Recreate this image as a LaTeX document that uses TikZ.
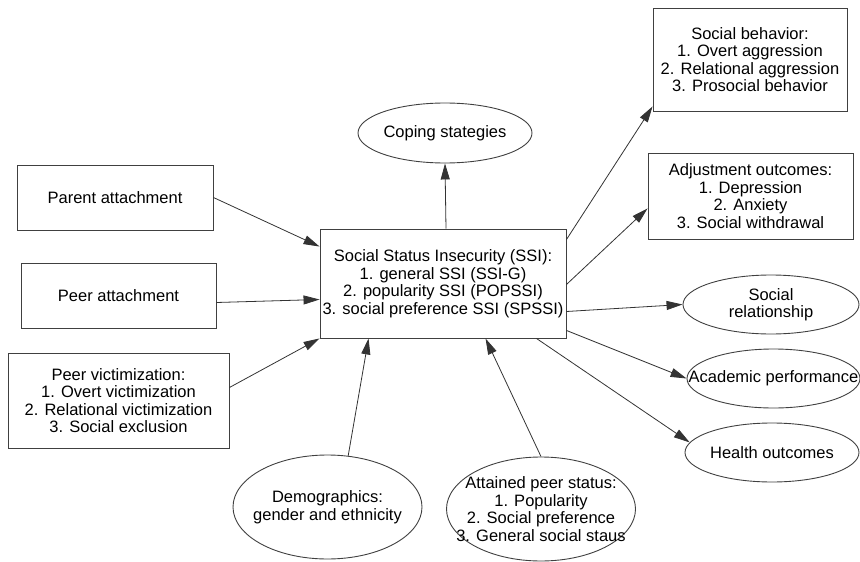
\documentclass[tikz,border=0pt]{standalone}
\usepackage{fontspec}
\setmainfont{Liberation Sans}
\usetikzlibrary{arrows.meta,shapes.geometric,calc}
\begin{document}
\begin{tikzpicture}[x=1pt,y=-1pt,
 every node/.style={font=\fontsize{16.5}{17.5}\selectfont, text=black},
 box/.style={draw=black!75, line width=0.9pt, inner sep=0pt, align=center},
 ell/.style={draw=black!75, line width=0.9pt, ellipse, inner sep=0pt},
 lbl/.style={align=center, inner sep=0pt},
 conn/.style={draw=black!80, line width=0.8pt, -{Triangle[length=16pt,width=9pt]}}
]
\useasboundingbox (0,0) rectangle (860,562);

% boxes
\node[box, minimum width=194, minimum height=103] (sb) at (750,59.5)
  {Social behavior:\\1. Overt aggression\\2. Relational aggression\\3. Prosocial behavior};
\node[box, minimum width=205, minimum height=86] (adj) at (750.5,196)
  {Adjustment outcomes:\\1. Depression\\2. Anxiety\\3. Social withdrawal};
\node[box, minimum width=246, minimum height=109] (ssi) at (443,283.5)
  {Social Status Insecurity (SSI):\\1. general SSI (SSI-G)\\2. popularity SSI (POPSSI)\\3. social preference SSI (SPSSI)};
\node[box, minimum width=196, minimum height=65] (parent) at (115,197.5) {Parent attachment};
\node[box, minimum width=195, minimum height=65] (peer) at (118.5,295.5) {Peer attachment};
\node[box, minimum width=221, minimum height=95] (victim) at (118.5,400.5)
  {Peer victimization:\\1. Overt victimization\\2. Relational victimization\\3. Social exclusion};

% ellipses
\node[ell, minimum width=174, minimum height=60] (coping) at (445,133) {};
\node[lbl] (copingT) at (coping) {Coping stategies};
\node[ell, minimum width=176, minimum height=59] (rel) at (771,304.5) {};
\node[lbl] (relT) at (rel) {Social\\relationship};
\node[ell, minimum width=173, minimum height=59] (acad) at (773.5,378.5) {};
\node[lbl] (acadT) at (acad) {Academic performance};
\node[ell, minimum width=174, minimum height=59] (health) at (772,452.5) {};
\node[lbl] (healthT) at (health) {Health outcomes};
\node[ell, minimum width=189, minimum height=104] (demo) at (327.5,507) {};
\node[lbl] (demoT) at (demo) {Demographics:\\gender and ethnicity};
\node[ell, minimum width=189, minimum height=104] (att) at (541,509) {};
\node[lbl] (attT) at (att) {Attained peer status:\\1. Popularity\\2. Social preference\\3. General social staus};

% connectors
\draw[conn] (parent.east) -- ($(ssi.north west)+(0,18)$);
\draw[conn] ($(peer.east)+(0,7)$) -- ($(ssi.west)+(0,16)$);
\draw[conn] ($(victim.east)+(0,-13)$) -- (ssi.south west);
\draw[conn] (demo.68) -- ($(ssi.south west)+(49,0)$);
\draw[conn] (att.north) -- ($(ssi.south west)+(166,0)$);
\draw[conn] ($(ssi.north)+(3,0)$) -- (coping.south);
\draw[conn] ($(ssi.north east)+(0,11)$) -- ($(sb.south west)+(0,-5)$);
\draw[conn] ($(ssi.east)+(0,1)$) -- ($(adj.south west)+(0,-31)$);
\draw[conn] ($(ssi.east)+(0,28)$) -- (rel.west);
\draw[conn] ($(ssi.south east)+(0,-8)$) -- (acad.west);
\draw[conn] ($(ssi.south east)+(-30,0)$) -- (health.173);
\end{tikzpicture}
\end{document}
